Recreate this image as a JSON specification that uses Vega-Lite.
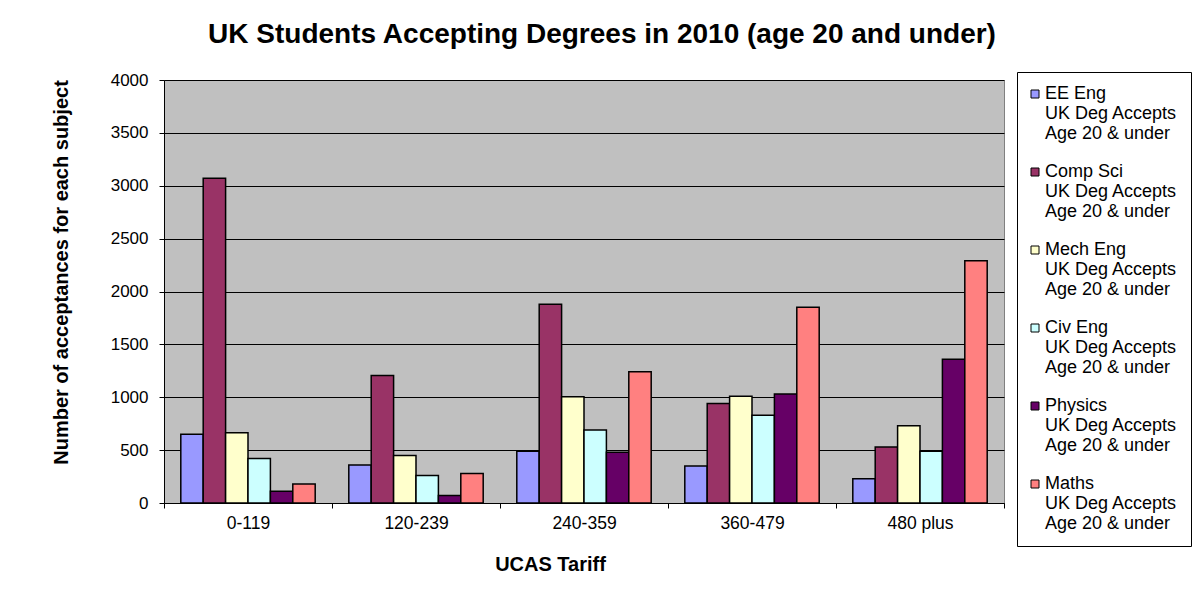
{
  "$schema": "https://vega.github.io/schema/vega-lite/v6.json",
  "width": 840,
  "height": 423,
  "autosize": {"type": "none"},
  "padding": {"left": 164, "top": 80, "right": 199, "bottom": 94},
  "background": "white",
  "title": {
    "text": "UK Students Accepting Degrees in 2010 (age 20 and under)",
    "font": "Liberation Sans",
    "fontSize": 28,
    "fontWeight": "bold",
    "color": "black",
    "anchor": "middle",
    "baseline": "alphabetic",
    "dx": 18,
    "offset": 0
  },
  "config": {
    "font": "Liberation Sans",
    "view": {"fill": "#C0C0C0", "stroke": "#808080", "strokeWidth": 1},
    "style": {"guide-label": {"lineHeight": 20}}
  },
  "data": {
    "values": [
      {"tariff": "0-119", "subject": "EE Eng", "value": 650},
      {"tariff": "0-119", "subject": "Comp Sci", "value": 3070},
      {"tariff": "0-119", "subject": "Mech Eng", "value": 665},
      {"tariff": "0-119", "subject": "Civ Eng", "value": 420},
      {"tariff": "0-119", "subject": "Physics", "value": 110},
      {"tariff": "0-119", "subject": "Maths", "value": 180},
      {"tariff": "120-239", "subject": "EE Eng", "value": 360},
      {"tariff": "120-239", "subject": "Comp Sci", "value": 1205},
      {"tariff": "120-239", "subject": "Mech Eng", "value": 450},
      {"tariff": "120-239", "subject": "Civ Eng", "value": 260},
      {"tariff": "120-239", "subject": "Physics", "value": 70},
      {"tariff": "120-239", "subject": "Maths", "value": 280},
      {"tariff": "240-359", "subject": "EE Eng", "value": 490},
      {"tariff": "240-359", "subject": "Comp Sci", "value": 1880},
      {"tariff": "240-359", "subject": "Mech Eng", "value": 1005},
      {"tariff": "240-359", "subject": "Civ Eng", "value": 690},
      {"tariff": "240-359", "subject": "Physics", "value": 480},
      {"tariff": "240-359", "subject": "Maths", "value": 1240},
      {"tariff": "360-479", "subject": "EE Eng", "value": 350},
      {"tariff": "360-479", "subject": "Comp Sci", "value": 940},
      {"tariff": "360-479", "subject": "Mech Eng", "value": 1010},
      {"tariff": "360-479", "subject": "Civ Eng", "value": 830},
      {"tariff": "360-479", "subject": "Physics", "value": 1030},
      {"tariff": "360-479", "subject": "Maths", "value": 1850},
      {"tariff": "480 plus", "subject": "EE Eng", "value": 230},
      {"tariff": "480 plus", "subject": "Comp Sci", "value": 530},
      {"tariff": "480 plus", "subject": "Mech Eng", "value": 730},
      {"tariff": "480 plus", "subject": "Civ Eng", "value": 490},
      {"tariff": "480 plus", "subject": "Physics", "value": 1360},
      {"tariff": "480 plus", "subject": "Maths", "value": 2290}
    ]
  },
  "mark": {"type": "bar", "stroke": "black", "strokeWidth": 1.5},
  "encoding": {
    "x": {
      "field": "tariff",
      "type": "nominal",
      "sort": ["0-119", "120-239", "240-359", "360-479", "480 plus"],
      "scale": {"paddingInner": 0, "paddingOuter": 0},
      "axis": {
        "title": "UCAS Tariff",
        "titleFont": "Liberation Sans",
        "titleFontSize": 20,
        "titleFontWeight": "bold",
        "titleColor": "black",
        "titleX": 386,
        "titleY": 67,
        "titleAlign": "center",
        "titleBaseline": "alphabetic",
        "labelAngle": 0,
        "labelFont": "Liberation Sans",
        "labelFontSize": 17.5,
        "labelColor": "black",
        "labelPadding": 6,
        "tickBand": "extent",
        "tickColor": "black",
        "tickSize": 5,
        "domainColor": "black",
        "domainWidth": 1
      }
    },
    "xOffset": {
      "field": "subject",
      "type": "nominal",
      "sort": ["EE Eng", "Comp Sci", "Mech Eng", "Civ Eng", "Physics", "Maths"],
      "scale": {"paddingInner": 0, "paddingOuter": 0.75}
    },
    "y": {
      "field": "value",
      "type": "quantitative",
      "scale": {"domain": [0, 4000], "nice": false},
      "axis": {
        "title": "Number of acceptances for each subject",
        "titleFont": "Liberation Sans",
        "titleFontSize": 20,
        "titleFontWeight": "bold",
        "titleColor": "black",
        "titleX": -103,
        "titleY": 192,
        "titleAngle": -90,
        "titleAlign": "center",
        "titleBaseline": "middle",
        "values": [0, 500, 1000, 1500, 2000, 2500, 3000, 3500, 4000],
        "format": "d",
        "labelFont": "Liberation Sans",
        "labelFontSize": 17,
        "labelColor": "black",
        "labelPadding": 11,
        "tickColor": "black",
        "tickSize": 5,
        "domainColor": "black",
        "grid": true,
        "gridColor": "black",
        "gridWidth": 1
      }
    },
    "color": {
      "field": "subject",
      "type": "nominal",
      "scale": {
        "domain": ["EE Eng", "Comp Sci", "Mech Eng", "Civ Eng", "Physics", "Maths"],
        "range": ["#9999FF", "#993366", "#FFFFCC", "#CCFFFF", "#660066", "#FF8080"]
      },
      "legend": {
        "title": null,
        "orient": "none",
        "legendX": 853,
        "legendY": -8,
        "direction": "vertical",
        "fillColor": "white",
        "strokeColor": "black",
        "padding": 13,
        "symbolType": "square",
        "symbolSize": 64,
        "symbolOffset": -4,
        "symbolStrokeColor": "black",
        "symbolStrokeWidth": 1,
        "symbolOpacity": 1,
        "labelFont": "Liberation Sans",
        "labelFontSize": 18,
        "labelColor": "black",
        "labelLimit": 0,
        "labelOffset": 1,
        "rowPadding": 20,
        "labelExpr": "[datum.label, 'UK Deg Accepts', 'Age 20 & under']"
      }
    }
  }
}
